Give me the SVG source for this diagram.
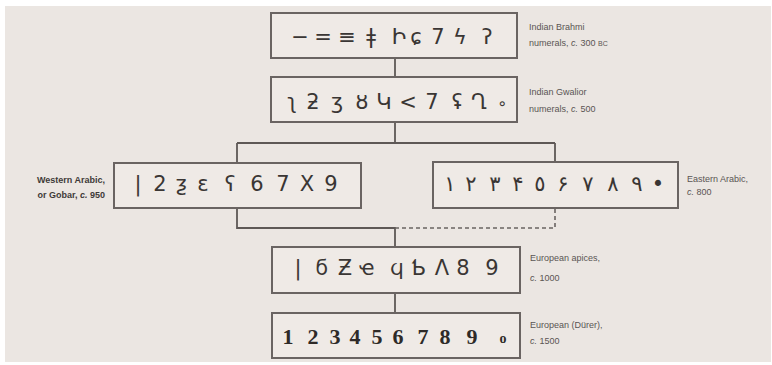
<svg xmlns="http://www.w3.org/2000/svg" width="772" height="365" viewBox="0 0 772 365">
<style>
.box{fill:#efeae6;stroke:#6a6462;stroke-width:2}
.ln{fill:none;stroke:#5e5856;stroke-width:1.8}
.dash{fill:none;stroke:#6a6462;stroke-width:1.6;stroke-dasharray:4 3}
.lbl{font-family:"Liberation Sans",Arial,sans-serif;font-size:9px;fill:#5a5553}
.lblb{font-family:"Liberation Sans",Arial,sans-serif;font-size:9px;fill:#3e3a38;font-weight:bold}
.num{font-family:"DejaVu Sans",sans-serif;font-size:21px;fill:#3a3634;text-anchor:middle}
.ser{font-family:"Liberation Serif",serif;font-size:22px;fill:#2e2a28;text-anchor:middle;font-weight:bold}
</style>
<rect width="772" height="365" fill="#ffffff"/>
<rect x="5" y="6" width="766" height="356" fill="#ebe6e2"/>
<g id="connectors">
<path class="ln" d="M395 58V76"/>
<path class="ln" d="M395 123V143M237 143H555M237 143V163M555 143V162"/>
<path class="ln" d="M237 208V228H395V247"/>
<path class="dash" d="M395 228H555V209"/>
<path class="ln" d="M395 293V313"/>
</g>
<g id="brahmi">
<rect class="box" x="271" y="13" width="246" height="45"/>
<g class="num">
<text x="300" y="44">−</text><text x="323" y="44">=</text><text x="347" y="44">≡</text><text x="371" y="44">ǂ</text><text x="399" y="44">Ի</text><text x="416" y="44">ɕ</text><text x="438" y="44">7</text><text x="460" y="44">ϟ</text><text x="487" y="44">ʔ</text>
</g>
<text class="lbl" x="529" y="30">Indian Brahmi</text>
<text class="lbl" x="529" y="46">numerals, <tspan font-style="italic">c.</tspan> 300 <tspan font-size="7">BC</tspan></text>
</g>
<g id="gwalior">
<rect class="box" x="271" y="77" width="246" height="45"/>
<g class="num">
<text x="292" y="109">ʅ</text><text x="313" y="109">ƻ</text><text x="337" y="109">ʒ</text><text x="362" y="109">ȣ</text><text x="384" y="109">Կ</text><text x="408" y="109">&lt;</text><text x="432" y="109">7</text><text x="457" y="109">ʢ</text><text x="479" y="109">Ղ</text><text x="502" y="109" font-size="16">∘</text>
</g>
<text class="lbl" x="529" y="95">Indian Gwalior</text>
<text class="lbl" x="529" y="112">numerals, <tspan font-style="italic">c.</tspan> 500</text>
</g>
<g id="western">
<rect class="box" x="114" y="163" width="247" height="45"/>
<g class="num">
<text x="138" y="191">|</text><text x="160" y="191">2</text><text x="181" y="191">ƺ</text><text x="203" y="191">ɛ</text><text x="230" y="191">ʕ</text><text x="257" y="191">6</text><text x="283" y="191">7</text><text x="307" y="191">X</text><text x="331" y="191">9</text>
</g>
<text class="lblb" x="105" y="183" text-anchor="end">Western Arabic,</text>
<text class="lblb" x="105" y="198" text-anchor="end">or Gobar, <tspan font-style="italic">c.</tspan> 950</text>
</g>
<g id="eastern">
<rect class="box" x="433" y="162" width="245" height="46"/>
<g class="num">
<text x="450" y="191">١</text><text x="471" y="191">٢</text><text x="495" y="191">٣</text><text x="518" y="191">۴</text><text x="540" y="191">٥</text><text x="563" y="191">۶</text><text x="588" y="191">٧</text><text x="613" y="191">٨</text><text x="637" y="191">٩</text><text x="658" y="191">•</text>
</g>
<text class="lbl" x="687" y="182">Eastern Arabic,</text>
<text class="lbl" x="687" y="195"><tspan font-style="italic">c.</tspan> 800</text>
</g>
<g id="apices">
<rect class="box" x="272" y="247" width="248" height="46"/>
<g class="num">
<text x="298" y="275">|</text><text x="322" y="275">ϭ</text><text x="345" y="275">Ƶ</text><text x="367" y="275">ҽ</text><text x="397" y="275">ϥ</text><text x="419" y="275">Ƅ</text><text x="442" y="275">Λ</text><text x="463" y="275">8</text><text x="492" y="275">9</text>
</g>
<text class="lbl" x="530" y="261">European apices,</text>
<text class="lbl" x="530" y="281"><tspan font-style="italic">c.</tspan> 1000</text>
</g>
<g id="durer">
<rect class="box" x="272" y="313" width="248" height="45"/>
<g class="ser">
<text x="288" y="344">1</text><text x="313" y="344">2</text><text x="335" y="344">3</text><text x="355" y="344">4</text><text x="377" y="344">5</text><text x="398" y="344">6</text><text x="423" y="344">7</text><text x="445" y="344">8</text><text x="472" y="344">9</text><text x="503" y="343" font-size="14">o</text>
</g>
<text class="lbl" x="530" y="328">European (Dürer),</text>
<text class="lbl" x="530" y="344"><tspan font-style="italic">c.</tspan> 1500</text>
</g>
</svg>
